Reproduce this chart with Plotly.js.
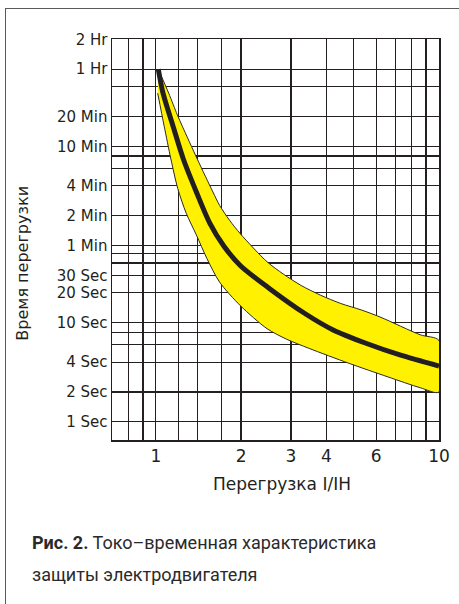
<!DOCTYPE html>
<html>
<head>
<meta charset="utf-8">
<script src="https://cdn.plot.ly/plotly-3.0.1.min.js"></script>
<style>
html, body { margin: 0; padding: 0; background: #ffffff; }
#chart { position: absolute; left: 0; top: 0; width: 459px; height: 604px; }
#frame { position: absolute; left: 5px; top: 8px; width: 480px; height: 640px;
         border-left: 1.5px solid #5a5a5a; border-top: 1.5px solid #5a5a5a; pointer-events: none; }
</style>
</head>
<body>
<div id="chart"></div>
<div id="frame"></div>
<script>
// Overload ratio I/IН (x) and trip time in seconds (y)
const curveX = [1.02, 1.06, 1.15, 1.25, 1.39, 1.55, 1.74, 1.99, 2.53, 3.37, 4.21, 5.52, 7.32, 10];
const curveY = [3600, 2060, 957, 447, 208, 101, 59, 37.5, 21.9, 12.3, 8.5, 6.2, 4.7, 3.65];

const upperX = [1.02, 1.11, 1.19, 1.24, 1.40, 1.59, 1.68, 1.82, 1.99, 2.47, 2.82, 3.26, 3.82, 4.5, 5.33, 6.24, 8.58, 10];
const upperY = [3600, 2060, 1250, 957, 447, 208, 152, 108, 78.5, 41.1, 30.9, 23.7, 18.9, 15.6, 13.4, 11.3, 7.55, 6.6];

const lowerX = [1.02, 1.015, 1.07, 1.13, 1.195, 1.28, 1.39, 1.515, 1.68, 1.99, 2.47, 2.9, 3.48, 4.8, 6.6, 8.58, 10];
const lowerY = [3600, 2060, 957, 447, 225, 127, 76.7, 44.3, 25.6, 14.8, 8.7, 6.8, 5.5, 3.9, 2.84, 2.21, 2.0];

const xTickVals = [0.8, 0.9, 1, 1.2, 1.4, 1.7, 2, 3, 4, 5, 6, 7, 8, 9, 10];
const xTickText = ['', '', '1', '', '', '', '2', '3', '4', '', '6', '', '', '', '10'];

const yTickVals = [7200, 3600, 2400, 1200, 600, 480, 360, 240, 120, 60, 50, 40, 30, 20, 10, 8, 6, 4, 2, 1];
const yTickText = ['2 Hr', '1 Hr', '', '20 Min', '10 Min', '', '', '4 Min', '2 Min', '1 Min', '', '', '30 Sec', '20 Sec', '10 Sec', '', '', '4 Sec', '2 Sec', '1 Sec'];

const xTitle = 'Перегрузка I/IН';
const yTitle = 'Время перегрузки';
const captionLine1 = '<b>Рис. 2.</b> Токо–временная характеристика';
const captionLine2 = 'защиты электродвигателя';

// closed band polygon: upper edge forward, lower edge backward
const bandX = upperX.concat(lowerX.slice(1).reverse());
const bandY = upperY.concat(lowerY.slice(1).reverse());

const ink = '#231f20';
const axisFont = { family: 'DejaVu Sans, sans-serif', size: 17, color: ink };
const yTickFont = { family: 'DejaVu Sans, sans-serif', size: 15, color: ink };

const traces = [
  {
    x: bandX, y: bandY, type: 'scatter', mode: 'lines', fill: 'toself',
    fillcolor: '#fff100', line: { color: '#2a2a2a', width: 1, shape: 'spline', smoothing: 0.8 },
    hoverinfo: 'skip', showlegend: false
  },
  {
    x: curveX, y: curveY, type: 'scatter', mode: 'lines',
    line: { color: ink, width: 5, shape: 'spline', smoothing: 0.8 },
    showlegend: false
  }
];

const layout = {
  width: 459, height: 604,
  margin: { l: 112, r: 20, t: 39, b: 164 },
  paper_bgcolor: '#ffffff', plot_bgcolor: '#ffffff',
  showlegend: false,
  xaxis: {
    type: 'log', range: [Math.log10(0.7), 1],
    tickmode: 'array', tickvals: xTickVals, ticktext: xTickText,
    showgrid: true, gridcolor: ink, gridwidth: 1.2,
    showline: true, linecolor: ink, linewidth: 1.5, mirror: true,
    ticks: '', tickfont: axisFont, zeroline: false, automargin: false
  },
  yaxis: {
    type: 'log', range: [-0.183, 3.86],
    tickmode: 'array', tickvals: yTickVals, ticktext: yTickText,
    showgrid: true, gridcolor: ink, gridwidth: 1.2,
    showline: true, linecolor: ink, linewidth: 1.5, mirror: true,
    ticks: '', tickfont: yTickFont, zeroline: false, automargin: false
  },
  annotations: [
    { text: xTitle, xref: 'paper', yref: 'paper', x: 0.52, y: -0.11, xanchor: 'center', yanchor: 'middle',
      showarrow: false, font: axisFont },
    { text: yTitle, xref: 'paper', yref: 'paper', x: -0.275, y: 0.44, xanchor: 'center', yanchor: 'middle',
      textangle: -90, showarrow: false, font: { family: 'DejaVu Sans, sans-serif', size: 16, color: ink } },
    { text: captionLine1, xref: 'paper', yref: 'paper', x: -0.25, y: -0.255, xanchor: 'left', yanchor: 'middle',
      showarrow: false, align: 'left', font: { family: 'Roboto, sans-serif', size: 18, color: '#2a2a2a' } },
    { text: captionLine2, xref: 'paper', yref: 'paper', x: -0.25, y: -0.335, xanchor: 'left', yanchor: 'middle',
      showarrow: false, align: 'left', font: { family: 'Roboto, sans-serif', size: 18, color: '#2a2a2a' } }
  ]
};

Plotly.newPlot('chart', traces, layout, { staticPlot: true, displayModeBar: false });
</script>
</body>
</html>
